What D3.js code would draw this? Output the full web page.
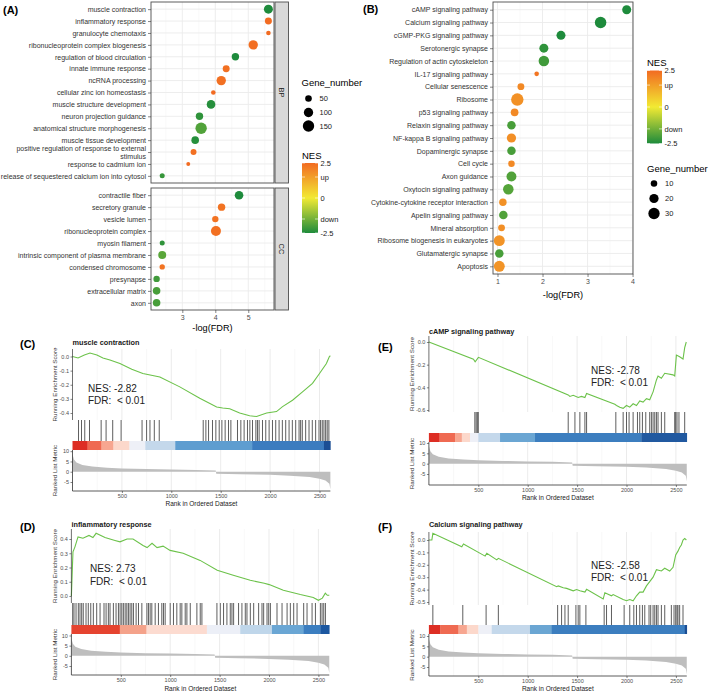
<!DOCTYPE html>
<html><head><meta charset="utf-8">
<script src="https://cdn.jsdelivr.net/npm/d3@7"></script>
<style>body{margin:0;background:#fff}svg{display:block}</style>
</head><body>
<script>
// ---------------- DATA ----------------
// Panel A (GO)
const bpTerms = ["muscle contraction","inflammatory response","granulocyte chemotaxis","ribonucleoprotein complex biogenesis","regulation of blood circulation","innate immune response","ncRNA processing","cellular zinc ion homeostasis","muscle structure development","neuron projection guidance","anatomical structure morphogenesis","muscle tissue development","positive regulation of response to external\nstimulus","response to cadmium ion","release of sequestered calcium ion into cytosol"];
const bpLogFDR = [5.61,5.61,5.61,5.15,4.61,4.33,4.18,3.94,3.87,3.52,3.57,3.39,3.34,3.18,2.39];
const bpGenes  = [93,56,24,101,63,56,101,24,85,63,149,66,41,18,29];
const bpNES    = [-2.82,2.73,2.6,2.45,-2.6,2.4,2.4,2.5,-2.4,-2.3,-1.9,-2.4,2.4,2.5,-2.2];
const ccTerms = ["contractile fiber","secretory granule","vesicle lumen","ribonucleoprotein complex","myosin filament","intrinsic component of plasma membrane","condensed chromosome","presynapse","extracellular matrix","axon"];
const ccLogFDR = [4.72,4.19,4.0,4.02,2.39,2.39,2.39,2.22,2.22,2.22];
const ccGenes  = [85,63,47,115,29,73,33,47,66,66];
const ccNES    = [-2.6,2.35,2.35,2.4,-2.3,-1.8,2.35,-2.1,-2.0,-2.0];
const sizeBreaksA = [50,100,150];
const xTicksA = [3,4,5];

// Panel B (KEGG)
const keggTerms = ["cAMP signaling pathway","Calcium signaling pathway","cGMP-PKG signaling pathway","Serotonergic synapse","Regulation of actin cytoskeleton","IL-17 signaling pathway","Cellular senescence","Ribosome","p53 signaling pathway","Relaxin signaling pathway","NF-kappa B signaling pathway","Dopaminergic synapse","Cell cycle","Axon guidance","Oxytocin signaling pathway","Cytokine-cytokine receptor interaction","Apelin signaling pathway","Mineral absorption","Ribosome biogenesis in eukaryotes","Glutamatergic synapse","Apoptosis"];
const keggLogFDR = [3.87,3.29,2.41,2.03,2.03,1.87,1.52,1.44,1.38,1.31,1.31,1.31,1.31,1.31,1.24,1.12,1.13,1.09,1.04,1.04,1.04];
const keggGenes  = [19,31,19,19,26,5,11,36,14,17,20,17,10,23,26,13,17,11,28,17,28];
const keggNES    = [-2.78,-2.58,-2.5,-2.3,-2.1,2.3,1.9,1.75,1.9,-2.0,1.8,-2.0,1.9,-1.9,-1.85,1.75,-1.9,1.8,1.7,-2.0,1.7];
const sizeBreaksB = [10,20,30];
const xTicksB = [1,2,3,4];

// NES colour legend
const nesBreaks = [2.5,1.5,0,-1.5,-2.5];
const nesLabels = ["2.5","up","0","down","-2.5"];

// GSEA shared
const rankTicks = [500,1000,1500,2000,2500];
const metricRank  = [0,15,40,100,200,350,500,750,1000,1250,1450,1455,1700,2000,2200,2400,2500,2560,2600,2610];
const metricValue = [8.5,6,4.5,3.3,2.5,2.0,1.6,1.3,1.1,0.9,0.6,-1.0,-1.2,-1.5,-1.9,-2.6,-3.4,-4.3,-5.8,-8.5];

// C: muscle contraction
const esC_rank  = [0,56,120,177,247,308,379,480,600,712,884,1086,1288,1459,1520,1591,1692,1793,1863,1965,2065,2126,2227,2328,2429,2500,2570,2600,2610];
const esC_score = [0,-0.01,0.01,0.025,0.01,-0.01,-0.025,-0.05,-0.09,-0.12,-0.145,-0.215,-0.296,-0.357,-0.365,-0.37,-0.40,-0.42,-0.425,-0.40,-0.39,-0.355,-0.31,-0.25,-0.19,-0.12,-0.05,0.0,0.005];
const hitsC = [61,91,124,172,290,340,407,492,704,750,784,828,878,1323,1350,1377,1417,1451,1485,1512,1545,1579,1603,1670,1704,1737,1771,1795,1822,1856,1872,1889,1923,1956,1990,2024,2057,2091,2124,2158,2192,2225,2259,2293,2309,2326,2360,2394,2427,2461,2495,2511,2528,2545,2562,2578,2595];
const barC_breaks = [0,152,293,414,576,737,1040,1818,2545,2610];
const barC_colors = ["#DD2E24","#EF6A52","#F7A690","#FCD8CB","#EEF0F7","#C4D8EB","#5E9DD0","#3C7CBF","#1B4E94"];

// D: inflammatory response
const esD_rank  = [0,10,16,36,67,117,178,218,250,340,441,492,563,624,725,766,816,867,928,999,1131,1303,1476,1638,1810,1952,2002,2145,2317,2448,2500,2540,2570,2590,2610];
const esD_score = [0,0.20,0.31,0.345,0.415,0.405,0.425,0.41,0.44,0.41,0.39,0.38,0.40,0.40,0.355,0.34,0.37,0.34,0.35,0.32,0.30,0.25,0.18,0.145,0.11,0.09,0.08,0.04,0.01,-0.01,-0.03,-0.015,0.02,0.005,0.005];
const hitsD = [13,26,47,70,87,104,120,148,171,196,222,256,290,330,351,374,391,425,452,476,493,510,526,544,561,577,594,611,628,655,679,713,764,780,797,814,848,881,915,932,949,1000,1033,1067,1101,1118,1152,1169,1203,1270,1304,1321,1473,1507,1540,1574,1608,1625,1642,1692,1726,1760,1777,1811,1845,1895,1929,1946,1980,1997,2014,2081,2132,2183,2216,2250,2284,2351,2385,2436,2470,2520,2537,2554,2571];
const barD_breaks = [0,490,760,1371,1709,2030,2351,2520,2610];
const barD_colors = ["#E5432F","#F4A28A","#FCDBD0","#ECEFF7","#BFD6EA","#6AA6D4","#3C7EC0","#1C57A0"];

// E: cAMP signaling pathway
const esE_rank  = [0,451,468,501,1410,1427,1461,1511,1545,1579,1596,1882,1899,1932,1966,2000,2033,2067,2101,2134,2168,2202,2235,2269,2303,2319,2353,2387,2471,2488,2505,2538,2572,2589,2605];
const esE_score = [0,-0.152,-0.174,-0.135,-0.467,-0.48,-0.47,-0.49,-0.48,-0.49,-0.455,-0.55,-0.56,-0.575,-0.585,-0.56,-0.575,-0.545,-0.56,-0.52,-0.53,-0.50,-0.51,-0.44,-0.335,-0.30,-0.32,-0.276,-0.29,-0.30,-0.115,-0.13,-0.15,-0.05,0.0];
const hitsE = [465,478,490,500,1410,1478,1528,1579,1596,1892,1966,2000,2026,2067,2111,2134,2161,2195,2235,2252,2269,2286,2303,2319,2353,2387,2488,2498,2511,2531,2589];
const barE_breaks = [0,107,265,333,416,500,720,1074,2151,2610];
const barE_colors = ["#DD2E24","#EF6A52","#F7A690","#FCD8CB","#EEF0F7","#C4D8EB","#6BA6D3","#3C7EBF","#2159A0"];

// F: Calcium signaling pathway
const esF_rank  = [0,30,40,333,350,569,586,687,703,1293,1309,1360,1394,1461,1495,1528,1579,1596,1764,1781,1848,1865,1966,2000,2033,2067,2101,2134,2168,2202,2235,2269,2303,2353,2387,2437,2471,2498,2521,2538,2555,2572,2589,2606];
const esF_score = [0,0.0,0.054,-0.054,-0.032,-0.13,-0.107,-0.16,-0.148,-0.376,-0.37,-0.385,-0.39,-0.41,-0.40,-0.41,-0.42,-0.398,-0.476,-0.425,-0.45,-0.44,-0.48,-0.49,-0.48,-0.49,-0.45,-0.42,-0.42,-0.37,-0.336,-0.30,-0.24,-0.25,-0.228,-0.25,-0.22,-0.12,-0.09,-0.06,-0.04,0.0,0.013,0.0];
const hitsF = [40,343,579,703,1303,1343,1377,1410,1488,1511,1528,1589,1774,1798,1848,1976,2033,2074,2101,2134,2161,2185,2228,2245,2269,2286,2303,2319,2353,2387,2454,2481,2498,2511,2521,2538,2572];
const barF_breaks = [0,114,299,384,501,636,1023,1242,2590,2610];
const barF_colors = ["#DD2E24","#EF6A52","#F7A690","#FCD8CB","#EEF0F7","#C4D8EB","#6BA6D3","#3C7EBF","#1B4E94"];

// ---------------- DRAWING ----------------
const FONT = "'Liberation Sans', Arial, Helvetica, sans-serif";
const svg = d3.select("body").append("svg").attr("width",709).attr("height",694)
  .style("font-family", FONT);
const nesColor = d3.scaleLinear().domain([-2.5,0,2.5]).range(["#1E8B3C","#F2EA33","#F26B21"]).clamp(true);

function styleAxis(sel, fs, col) {
  sel.attr("font-size", fs).attr("font-family", FONT);
  sel.selectAll("text").attr("fill", col);
  sel.selectAll(".tick line").attr("stroke", "#333").attr("stroke-width", 0.6);
  sel.select(".domain").remove();
}
function txt(x, y, s, o) {
  o = o || {};
  const t = svg.append("text").attr("x", x).attr("y", y).text(s)
    .attr("font-size", o.fs || 7).attr("fill", o.fill || "#1a1a1a")
    .attr("text-anchor", o.anchor || "start").attr("font-weight", o.fw || "normal");
  if (o.rot) t.attr("transform", `rotate(${o.rot},${x},${y})`);
  return t;
}

// ---- Dot plot facet ----
function dotFacet(x, terms, vals, genes, nes, top, bottom, rScale, strip) {
  const x0 = x.range()[0], x1 = x.range()[1];
  const y = d3.scalePoint().domain(terms).range([top, bottom]).padding(0.6);
  const g = svg.append("g");
  g.append("rect").attr("x", x0).attr("y", top).attr("width", x1 - x0).attr("height", bottom - top).attr("fill", "#fff");
  const dom = x.domain();
  const minor = d3.range(Math.ceil(dom[0]*2)/2, dom[1], 0.5).filter(v => Math.abs(v - Math.round(v)) > 0.1);
  const major = d3.range(Math.ceil(dom[0]), dom[1] + 1e-9, 1);
  g.selectAll(".mn").data(minor).join("line").attr("x1", d => x(d)).attr("x2", d => x(d))
    .attr("y1", top).attr("y2", bottom).attr("stroke", "#F3F3F3").attr("stroke-width", 0.5);
  g.selectAll(".mj").data(major).join("line").attr("x1", d => x(d)).attr("x2", d => x(d))
    .attr("y1", top).attr("y2", bottom).attr("stroke", "#EBEBEB").attr("stroke-width", 0.9);
  g.selectAll(".hz").data(terms).join("line").attr("x1", x0).attr("x2", x1)
    .attr("y1", d => y(d)).attr("y2", d => y(d)).attr("stroke", "#EBEBEB").attr("stroke-width", 0.9);
  const rows = terms.map((t, i) => ({t, v: vals[i], n: genes[i], c: nes[i]}));
  g.selectAll("circle").data(rows).join("circle")
    .attr("cx", d => x(d.v)).attr("cy", d => y(d.t)).attr("r", d => rScale(d.n))
    .attr("fill", d => nesColor(d.c));
  g.append("rect").attr("x", x0).attr("y", top).attr("width", x1 - x0).attr("height", bottom - top)
    .attr("fill", "none").attr("stroke", "#4d4d4d").attr("stroke-width", 0.9);
  const ax = svg.append("g").attr("transform", `translate(${x0},0)`).call(d3.axisLeft(y).tickSize(3).tickPadding(2));
  styleAxis(ax, 7, "#333");
  ax.selectAll(".tick text").each(function(d) {
    const parts = d.split("\n");
    if (parts.length > 1) {
      const t = d3.select(this); const xx = t.attr("x");
      t.text(null).attr("dy", null);
      parts.forEach((p, i) => t.append("tspan").attr("x", xx)
        .attr("dy", i === 0 ? ((-(parts.length - 1) * 0.55 + 0.32) + "em") : "1.1em").text(p));
    }
  });
  if (strip) {
    const sx = x1 + 1;
    svg.append("rect").attr("x", sx).attr("y", top).attr("width", 13.5).attr("height", bottom - top)
      .attr("fill", "#D9D9D9").attr("stroke", "#4d4d4d").attr("stroke-width", 0.9);
    txt(sx + 6.75, (top + bottom) / 2, strip, {fs: 7.5, anchor: "middle", rot: 90})
      .attr("dy", "0.35em");
  }
}

// Panel A
const xA = d3.scaleLinear().domain([2.05, 5.78]).range([151, 274]);
const rA = d3.scaleSqrt().domain([0, 160]).range([0, 5.9]);
dotFacet(xA, bpTerms, bpLogFDR, bpGenes, bpNES, 2, 183, rA, "BP");
dotFacet(xA, ccTerms, ccLogFDR, ccGenes, ccNES, 188, 310, rA, "CC");
const axA = svg.append("g").attr("transform", "translate(0,310)")
  .call(d3.axisBottom(xA).tickValues(xTicksA).tickSize(3).tickPadding(2).tickFormat(d => String(d)));
styleAxis(axA, 7, "#4d4d4d");
txt(212.5, 330.5, "-log(FDR)", {fs: 9.2, anchor: "middle", fill: "#000"});
txt(3, 13.5, "(A)", {fs: 11, fw: "bold", fill: "#000"});

// Panel B
const xB = d3.scaleLinear().domain([0.9, 4.01]).range([493, 633]);
const rB = d3.scaleSqrt().domain([0, 36]).range([0, 6.2]);
dotFacet(xB, keggTerms, keggLogFDR, keggGenes, keggNES, 2, 274, rB, null);
const axB = svg.append("g").attr("transform", "translate(0,274)")
  .call(d3.axisBottom(xB).tickValues(xTicksB).tickSize(3).tickPadding(2).tickFormat(d => String(d)));
styleAxis(axB, 7, "#4d4d4d");
txt(563, 297.5, "-log(FDR)", {fs: 9.2, anchor: "middle", fill: "#000"});
txt(363, 13, "(B)", {fs: 11, fw: "bold", fill: "#000"});

// ---- Legends ----
let gradId = 0;
function nesLegend(x, yTop, yBot, w, titleY) {
  txt(x, titleY, "NES", {fs: 9.5, fill: "#000"});
  const id = "nesg" + (gradId++);
  const grad = svg.append("defs").append("linearGradient").attr("id", id)
    .attr("x1", 0).attr("y1", 1).attr("x2", 0).attr("y2", 0);
  d3.range(0, 1.0001, 0.1).forEach(t => grad.append("stop").attr("offset", t)
    .attr("stop-color", nesColor(-2.5 + 5 * t)));
  svg.append("rect").attr("x", x).attr("y", yTop).attr("width", w).attr("height", yBot - yTop)
    .attr("fill", `url(#${id})`);
  const ys = d3.scaleLinear().domain([-2.5, 2.5]).range([yBot, yTop]);
  nesBreaks.forEach((b, i) => {
    const yy = ys(b);
    svg.append("line").attr("x1", x).attr("x2", x + 3).attr("y1", yy).attr("y2", yy).attr("stroke", "#fff").attr("stroke-width", 0.6);
    svg.append("line").attr("x1", x + w - 3).attr("x2", x + w).attr("y1", yy).attr("y2", yy).attr("stroke", "#fff").attr("stroke-width", 0.6);
    txt(x + w + 2.5, yy, nesLabels[i], {fs: 7.5, fill: "#1a1a1a"}).attr("dy", "0.35em");
  });
}
function sizeLegend(x, titleY, cx, ys, breaks, rScale) {
  txt(x, titleY, "Gene_number", {fs: 9.5, fill: "#000"});
  breaks.forEach((b, i) => {
    svg.append("circle").attr("cx", cx).attr("cy", ys[i]).attr("r", rScale(b)).attr("fill", "#000");
    txt(cx + 11, ys[i], String(b), {fs: 7.5, fill: "#1a1a1a"}).attr("dy", "0.35em");
  });
}
sizeLegend(301.5, 86, 308.5, [98.5, 112.5, 126], sizeBreaksA, rA);
nesLegend(302, 163, 233, 16, 158.5);
nesLegend(647, 70.5, 143.5, 15, 65.5);
sizeLegend(647, 171.5, 654, [183.5, 198.5, 213.5], sizeBreaksB, rB);

// ---- GSEA panels ----
const N_RANK = 2610;
function gsea(c) {
  const g = svg.append("g");
  const x = d3.scaleLinear().domain([0, N_RANK]).range([c.x0, c.x0 + N_RANK * 0.0988]);
  const x1 = x.range()[1];
  const yE = d3.scaleLinear().domain(c.esDomain).range(c.esRange);
  const yR = d3.scaleLinear().domain([-5, 10]).range(c.rkRange);
  const grid = d3.range(250, N_RANK, 250);
  [[c.esTop, c.esBot], [c.barBot, c.rkBot]].forEach(([a, b]) => {
    g.selectAll(null).data(grid).join("line").attr("x1", d => x(d)).attr("x2", d => x(d))
      .attr("y1", a).attr("y2", b)
      .attr("stroke", d => d % 500 === 0 ? "#E6E6E6" : "#F1F1F1")
      .attr("stroke-width", d => d % 500 === 0 ? 0.8 : 0.5);
  });
  // ES curve
  const pts = c.esRank.map((r, i) => [r, c.esScore[i]]);
  g.append("path").datum(pts).attr("fill", "none").attr("stroke", "#6CC24A").attr("stroke-width", 1.1)
    .attr("d", d3.line().x(d => x(d[0])).y(d => yE(d[1])));
  g.append("line").attr("x1", c.x0).attr("x2", c.x0).attr("y1", c.esTop).attr("y2", c.esBot)
    .attr("stroke", "#333").attr("stroke-width", 0.7);
  const axE = g.append("g").attr("transform", `translate(${c.x0},0)`)
    .call(d3.axisLeft(yE).tickValues(c.esTicks).tickSize(2).tickPadding(1.5).tickFormat(d => d.toFixed(1)));
  styleAxis(axE, 5.5, "#4d4d4d");
  // hits
  g.selectAll(null).data(c.hits).join("line").attr("x1", d => x(d)).attr("x2", d => x(d))
    .attr("y1", c.esBot).attr("y2", c.barTop).attr("stroke", "#000").attr("stroke-opacity", 0.8).attr("stroke-width", 0.8);
  // colour bar
  const segs = c.barColors.map((col, i) => ({a: c.barBreaks[i], b: c.barBreaks[i + 1], col}));
  g.selectAll(null).data(segs).join("rect").attr("x", d => x(d.a)).attr("width", d => x(d.b) - x(d.a) + 0.3)
    .attr("y", c.barTop).attr("height", c.barBot - c.barTop).attr("fill", d => d.col);
  // ranked list metric
  const mp = metricRank.map((r, i) => [r, metricValue[i]]);
  g.append("path").datum(mp).attr("fill", "#BEBEBE")
    .attr("d", d3.area().x(d => x(d[0])).y0(yR(0)).y1(d => yR(d[1])));
  g.append("line").attr("x1", c.x0).attr("x2", c.x0).attr("y1", c.barBot).attr("y2", c.rkBot)
    .attr("stroke", "#333").attr("stroke-width", 0.8);
  g.append("line").attr("x1", c.x0).attr("x2", x1).attr("y1", c.rkBot).attr("y2", c.rkBot)
    .attr("stroke", "#333").attr("stroke-width", 0.8);
  const axR = g.append("g").attr("transform", `translate(${c.x0},0)`)
    .call(d3.axisLeft(yR).tickValues([10, 5, 0, -5]).tickSize(2).tickPadding(1.5).tickFormat(d => String(d)));
  styleAxis(axR, 5.5, "#4d4d4d");
  const axX = g.append("g").attr("transform", `translate(0,${c.rkBot})`)
    .call(d3.axisBottom(x).tickValues(rankTicks).tickSize(2).tickPadding(1.5).tickFormat(d => String(d)));
  styleAxis(axX, 5.5, "#4d4d4d");
  // texts
  txt(c.x0, c.titleY, c.title, {fs: 7.3, fw: "bold", fill: "#1a1a1a"});
  txt(c.letterX, c.letterY, c.letter, {fs: 11, fw: "bold", fill: "#000"});
  txt(c.ytX, (c.esTop + c.esBot) / 2, "Running Enrichment Score", {fs: 6.2, anchor: "middle", rot: -90, fill: "#333"}).attr("dy", "0.35em");
  txt(c.ytX, (c.barBot + c.rkBot) / 2, "Ranked List Metric", {fs: 6.2, anchor: "middle", rot: -90, fill: "#333"}).attr("dy", "0.35em");
  txt((c.x0 + x1) / 2, c.xlabY, "Rank in Ordered Dataset", {fs: 6.5, anchor: "middle", fill: "#1a1a1a"});
  txt(c.nesX, c.nesY, c.nesText, {fs: 10, fill: "#222"});
  txt(c.nesX, c.nesY + 12.5, "FDR:  < 0.01", {fs: 10, fill: "#222"}).attr("xml:space", "preserve").style("white-space", "pre");
}

gsea({x0: 72.5, esDomain: [-0.4, 0], esRange: [413, 356.5], esTicks: [0, -0.1, -0.2, -0.3, -0.4],
  esTop: 349, esBot: 420, barTop: 441, barBot: 450, rkRange: [482, 451.2], rkBot: 491,
  esRank: esC_rank, esScore: esC_score, hits: hitsC, barBreaks: barC_breaks, barColors: barC_colors,
  title: "muscle contraction", titleY: 345, letter: "(C)", letterX: 20, letterY: 347.5, ytX: 55,
  xlabY: 505.5, nesX: 88, nesY: 391.5, nesText: "NES: -2.82"});
gsea({x0: 71.4, esDomain: [0, 0.4], esRange: [596, 539], esTicks: [0, 0.1, 0.2, 0.3, 0.4],
  esTop: 529, esBot: 603, barTop: 625, barBot: 634, rkRange: [666, 635.5], rkBot: 675,
  esRank: esD_rank, esScore: esD_score, hits: hitsD, barBreaks: barD_breaks, barColors: barD_colors,
  title: "inflammatory response", titleY: 526.5, letter: "(D)", letterX: 20, letterY: 531, ytX: 55,
  xlabY: 690.5, nesX: 90, nesY: 572, nesText: "NES: 2.73"});
gsea({x0: 428.9, esDomain: [-0.6, 0], esRange: [410, 342], esTicks: [0, -0.2, -0.4, -0.6],
  esTop: 336, esBot: 412, barTop: 433, barBot: 442, rkRange: [474, 443], rkBot: 485,
  esRank: esE_rank, esScore: esE_score, hits: hitsE, barBreaks: barE_breaks, barColors: barE_colors,
  title: "cAMP signaling pathway", titleY: 333.5, letter: "(E)", letterX: 378, letterY: 351, ytX: 412,
  xlabY: 499.5, nesX: 591, nesY: 373.5, nesText: "NES: -2.78"});
gsea({x0: 428.9, esDomain: [-0.5, 0], esRange: [602, 540], esTicks: [0, -0.1, -0.2, -0.3, -0.4, -0.5],
  esTop: 532, esBot: 605, barTop: 625, barBot: 634, rkRange: [667, 636], rkBot: 676,
  esRank: esF_rank, esScore: esF_score, hits: hitsF, barBreaks: barF_breaks, barColors: barF_colors,
  title: "Calcium signaling pathway", titleY: 527, letter: "(F)", letterX: 378, letterY: 531, ytX: 412,
  xlabY: 690.5, nesX: 591, nesY: 568.5, nesText: "NES: -2.58"});
</script></body></html>
